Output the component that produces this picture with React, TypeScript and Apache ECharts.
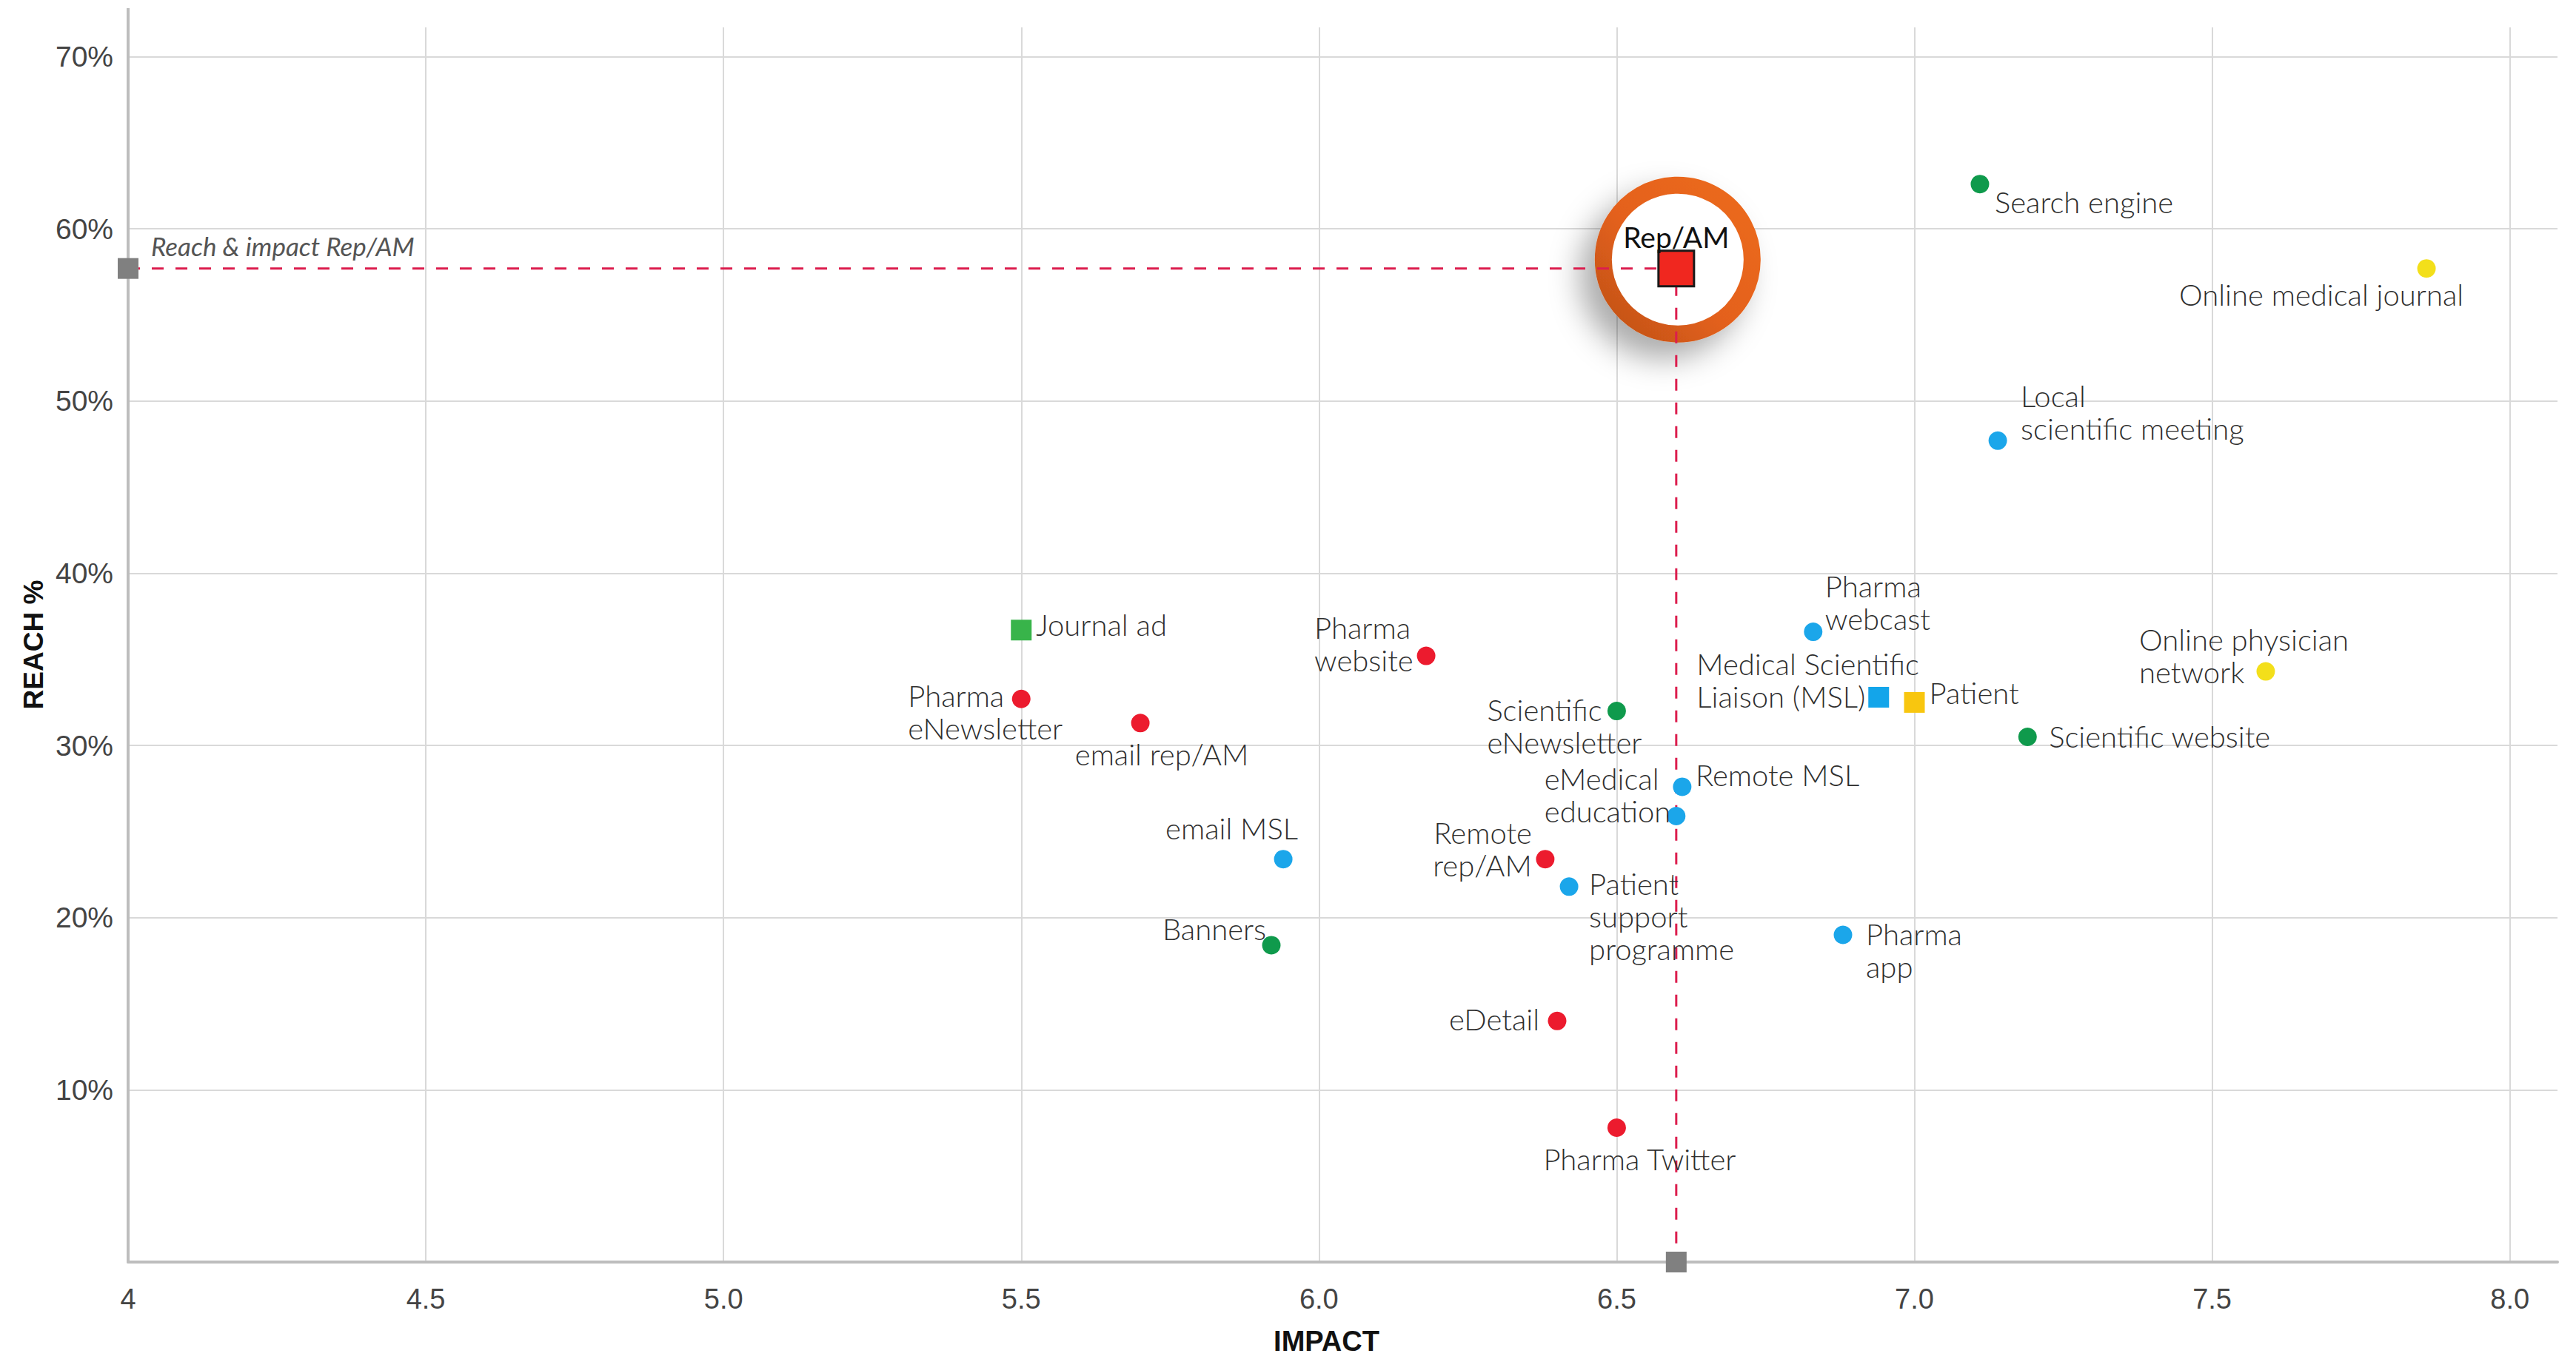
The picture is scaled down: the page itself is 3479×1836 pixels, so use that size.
import React, { useEffect, useRef } from "react";
import * as echarts from "echarts";

// ---------- DATA ----------
const channelNames = [
  "Search engine",
  "Online medical journal",
  "Local\nscientific meeting",
  "Pharma\nwebcast",
  "Online physician\nnetwork",
  "Medical Scientific\nLiaison (MSL)",
  "Patient",
  "Scientific website",
  "Remote MSL",
  "eMedical\neducation",
  "Scientific\neNewsletter",
  "Pharma\nwebsite",
  "Journal ad",
  "Pharma\neNewsletter",
  "email rep/AM",
  "email MSL",
  "Remote\nrep/AM",
  "Patient\nsupport\nprogramme",
  "Banners",
  "Pharma\napp",
  "eDetail",
  "Pharma Twitter",
];
const impactValues = [
  7.11, 7.86, 7.14, 6.83, 7.59, 6.94, 7.0, 7.19, 6.61, 6.6, 6.5, 6.18, 5.5, 5.5,
  5.7, 5.94, 6.38, 6.42, 5.92, 6.88, 6.4, 6.5,
];
const reachValues = [
  62.6, 57.7, 47.7, 36.6, 34.3, 32.8, 32.5, 30.5, 27.6, 25.9, 32.0, 35.2, 36.7,
  32.7, 31.3, 23.4, 23.4, 21.8, 18.4, 19.0, 14.0, 7.8,
];
const channelGroups = [
  "green", "yellow", "blue", "blue", "yellow", "blue", "yellow", "green", "blue",
  "blue", "green", "red", "green", "red", "red", "blue", "red", "blue", "green",
  "blue", "red", "red",
];
const channelShapes = [
  "circle", "circle", "circle", "circle", "circle", "square", "square", "circle",
  "circle", "circle", "circle", "circle", "square", "circle", "circle", "circle",
  "circle", "circle", "circle", "circle", "circle", "circle",
];
const repName = "Rep/AM";
const repImpact = 6.6;
const repReach = 57.7;
const refLabel = "Reach & impact Rep/AM";
const xTicks = [4, 4.5, 5, 5.5, 6, 6.5, 7, 7.5, 8];
const yTicks = [10, 20, 30, 40, 50, 60, 70];

// ---------- STYLE ----------
const groupColors: Record<string, string> = {
  red: "#ec1b2e",
  blue: "#1ba6ea",
  green: "#0f9a4c",
  yellow: "#f3df1a",
};
const squareColors: Record<string, string> = {
  blue: "#13a5ea",
  yellow: "#f8c60f",
  green: "#38b44a",
};
// label placement: [dx, dy, align] from point centre (px)
const labelPlacement: Record<string, [number, number, string]> = {
  "Search engine": [20, 24, "left"],
  "Online medical journal": [-142, 35, "center"],
  "Local\nscientific meeting": [31, -38, "left"],
  "Pharma\nwebcast": [16, -40, "left"],
  "Online physician\nnetwork": [-171, -21, "left"],
  "Medical Scientific\nLiaison (MSL)": [-246, -23, "left"],
  Patient: [20, -13, "left"],
  "Scientific website": [29, 0, "left"],
  "Remote MSL": [18, -16, "left"],
  "eMedical\neducation": [-178, -28, "left"],
  "Scientific\neNewsletter": [-175, 20, "left"],
  "Pharma\nwebsite": [-151, -16, "left"],
  "Journal ad": [20, -7, "left"],
  "Pharma\neNewsletter": [-153, 18, "left"],
  "email rep/AM": [29, 42, "center"],
  "email MSL": [20, -42, "right"],
  "Remote\nrep/AM": [-18, -14, "right"],
  "Patient\nsupport\nprogramme": [27, 40, "left"],
  Banners: [-7, -22, "right"],
  "Pharma\napp": [31, 21, "left"],
  eDetail: [-24, -2, "right"],
  "Pharma Twitter": [31, 42, "center"],
};

const LABEL_FONT = "Lato, 'Open Sans', sans-serif";
const AXIS_FONT = "'Liberation Sans', Arial, sans-serif";

function buildOption() {
  const groups = ["red", "blue", "green", "yellow"];
  const channelSeries = groups.map((g) => {
    const data: any[] = [];
    channelNames.forEach((name, i) => {
      if (channelGroups[i] !== g) return;
      const sq = channelShapes[i] === "square";
      const lp = labelPlacement[name] || [20, 0, "left"];
      data.push({
        name,
        value: [impactValues[i], reachValues[i]],
        symbol: sq ? "rect" : "circle",
        symbolSize: sq ? 28 : 25,
        itemStyle: { color: sq ? squareColors[g] : groupColors[g], opacity: 1 },
        label: {
          show: true,
          formatter: "{b}",
          position: ["50%", "50%"],
          offset: [lp[0], lp[1]],
          align: lp[2],
          verticalAlign: "middle",
          fontFamily: LABEL_FONT,
          fontSize: 40,
          fontWeight: 300,
          lineHeight: 44,
          color: "#2e2e2e",
        },
      });
    });
    return {
      type: "scatter",
      name: g,
      data,
      z: 5,
      clip: false,
      itemStyle: { opacity: 1 },
      emphasis: { disabled: true },
    };
  });

  return {
    animation: false,
    backgroundColor: "#ffffff",
    grid: { left: 173, right: 25, top: 37, bottom: 129, containLabel: false },
    xAxis: {
      type: "value",
      min: 4,
      max: 8.08,
      interval: 0.5,
      name: "IMPACT",
      nameLocation: "middle",
      nameGap: 88,
      nameTextStyle: {
        fontFamily: AXIS_FONT,
        fontWeight: "bold",
        fontSize: 38,
        color: "#111",
        padding: [0, 44, 0, 0],
      },
      axisLine: { show: true, lineStyle: { color: "#bdbdbd", width: 4 } },
      axisTick: { show: false },
      splitLine: {
        show: true,
        showMinLine: false,
        showMaxLine: false,
        lineStyle: { color: "#d9d9d9", width: 2 },
      },
      axisLabel: {
        fontFamily: AXIS_FONT,
        fontSize: 38,
        color: "#444",
        margin: 31,
        formatter: (v: number) => {
          const t = xTicks.find((k) => Math.abs(k - v) < 1e-6);
          if (t === undefined) return "";
          return t === 4 ? "4" : t.toFixed(1);
        },
      },
    },
    yAxis: {
      type: "value",
      min: 0,
      max: 71.7,
      interval: 10,
      name: "REACH %",
      nameLocation: "middle",
      nameGap: 107,
      nameTextStyle: {
        fontFamily: AXIS_FONT,
        fontWeight: "bold",
        fontSize: 37,
        color: "#111",
      },
      axisLine: { show: true, lineStyle: { color: "#bdbdbd", width: 4 } },
      axisTick: { show: false },
      splitLine: {
        show: true,
        showMinLine: false,
        showMaxLine: false,
        lineStyle: { color: "#d9d9d9", width: 2 },
      },
      axisLabel: {
        fontFamily: AXIS_FONT,
        fontSize: 39,
        color: "#444",
        margin: 20,
        formatter: (v: number) => {
          const t = yTicks.find((k) => Math.abs(k - v) < 1e-6);
          return t === undefined ? "" : t + "%";
        },
      },
    },
    series: [
      // highlight ring around Rep/AM
      {
        type: "scatter",
        name: "ring",
        data: [[repImpact, repReach]],
        symbol: "circle",
        symbolSize: 201,
        symbolOffset: [2, -12],
        z: 1,
        clip: false,
        silent: true,
        emphasis: { disabled: true },
        itemStyle: {
          opacity: 1,
          color: "#ffffff",
          borderColor: new echarts.graphic.LinearGradient(1, 0, 0, 1, [
            { offset: 0, color: "#ec6a1f" },
            { offset: 0.55, color: "#e4611b" },
            { offset: 1, color: "#bf5118" },
          ]),
          borderWidth: 23,
          shadowColor: "rgba(0,0,0,0.33)",
          shadowBlur: 40,
          shadowOffsetX: -20,
          shadowOffsetY: 22,
        },
      },
      // dashed reference lines
      {
        type: "line",
        name: "reference",
        data: [
          [xTicks[0], repReach],
          [repImpact, repReach],
          [repImpact, 0],
        ],
        symbol: "none",
        z: 3,
        clip: false,
        silent: true,
        lineStyle: { color: "#dc1e4e", width: 3, type: [16, 16] },
        emphasis: { disabled: true },
      },
      // axis anchors
      {
        type: "scatter",
        name: "anchors",
        z: 4,
        clip: false,
        silent: true,
        emphasis: { disabled: true },
        data: [
          {
            name: refLabel,
            value: [xTicks[0], repReach],
            label: {
              show: true,
              formatter: "{b}",
              position: ["50%", "50%"],
              offset: [31, -31],
              align: "left",
              verticalAlign: "middle",
              fontFamily: LABEL_FONT,
              fontStyle: "italic",
              fontSize: 35,
              color: "#555",
            },
          },
          { name: "", value: [repImpact, 0] },
        ],
        symbol: "rect",
        symbolSize: 28,
        itemStyle: { color: "#808080", opacity: 1 },
      },
      ...channelSeries,
      // Rep/AM square
      {
        type: "scatter",
        name: repName,
        z: 6,
        clip: false,
        emphasis: { disabled: true },
        data: [{ name: repName, value: [repImpact, repReach] }],
        symbol: "rect",
        symbolSize: 48,
        itemStyle: {
          color: "#f0271f",
          borderColor: "#1a1a1a",
          borderWidth: 3,
          opacity: 1,
        },
        label: {
          show: true,
          formatter: "{b}",
          position: ["50%", "50%"],
          offset: [0, -43],
          align: "center",
          verticalAlign: "middle",
          fontFamily: LABEL_FONT,
          fontSize: 39,
          color: "#111",
        },
      },
    ],
  };
}

export default function App() {
  const ref = useRef<HTMLDivElement>(null);
  useEffect(() => {
    if (!ref.current) return;
    const chart = echarts.init(ref.current, undefined, { renderer: "svg" });
    chart.setOption(buildOption() as any);
    // extend the y-axis line slightly above the plot area, as in the original
    const top = chart.convertToPixel({ gridIndex: 0 }, [4, 71.7]) as number[];
    if (top) {
      chart.setOption({
        graphic: [
          {
            type: "line",
            shape: { x1: top[0], y1: 11, x2: top[0], y2: top[1] },
            style: { stroke: "#bdbdbd", lineWidth: 4 },
            silent: true,
          },
        ],
      });
    }
    return () => chart.dispose();
  }, []);
  return (
    <div
      ref={ref}
      style={{
        position: "absolute",
        left: 0,
        top: 0,
        width: 3479,
        height: 1836,
        background: "#fff",
      }}
    />
  );
}
